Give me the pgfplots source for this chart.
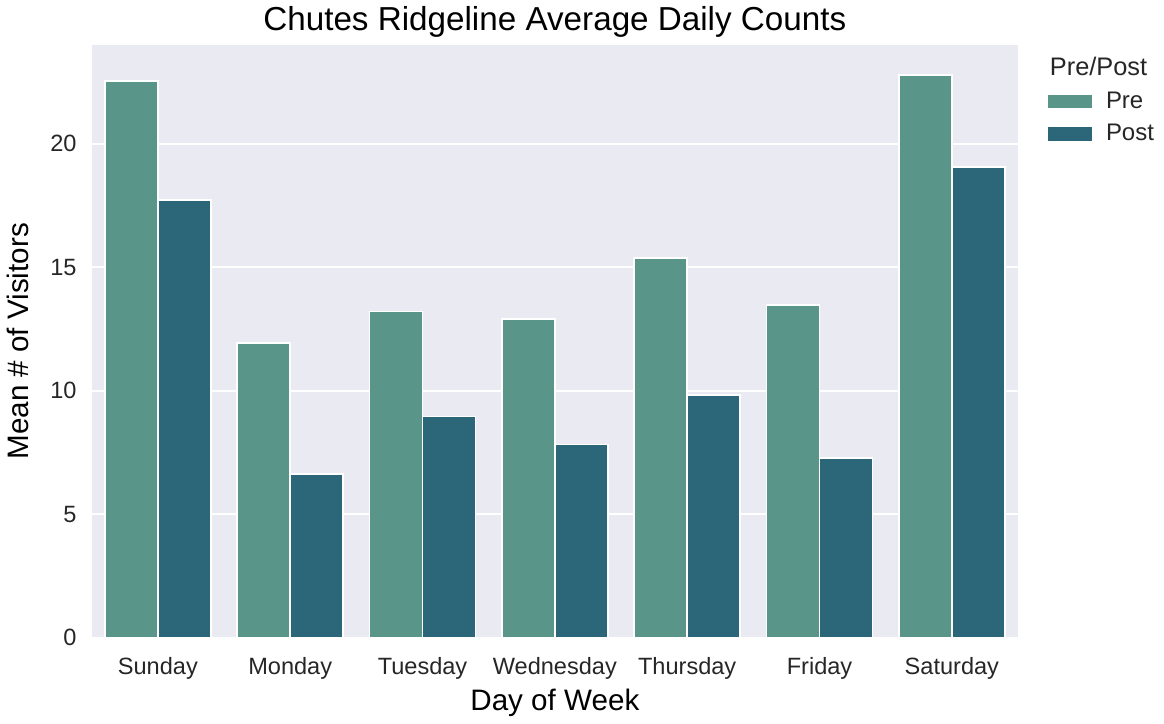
\documentclass[border=0pt]{standalone}
\usepackage{pgfplots}
\pgfplotsset{compat=1.18}
\usepackage{fontspec}
\setmainfont{Liberation Sans}
\definecolor{bgc}{HTML}{EAEAF2}
\definecolor{pre}{HTML}{5A9589}
\definecolor{post}{HTML}{2B6679}
\definecolor{txt}{HTML}{262626}

\pgfplotsset{ybar legend/.style={legend image code/.code={%
  \fill[##1, draw=none] (0pt,-3.3pt) rectangle (22pt,3.3pt);
  \path[draw=none, fill=none] (0pt,0pt) -- (27pt,0pt);}}}

\begin{document}
\begin{tikzpicture}
\begin{axis}[
scale only axis,
width=460pt, height=294.5pt,
clip=false,
axis background/.style={fill=bgc},
axis line style={draw=none},
ymajorgrids, grid style={white, line width=0.9pt},
tick style={draw=none},
xmin=-0.5, xmax=6.5,
ymin=0, ymax=24,
ytick={0,5,10,15,20},
xtick={0,1,2,3,4,5,6},
xticklabels={Sunday,Monday,Tuesday,Wednesday,Thursday,Friday,Saturday},
tick label style={font=\fontsize{11.7}{13}\selectfont, text=txt},
xticklabel style={yshift=-2pt},
yticklabel style={xshift=-4pt},
/pgf/number format/assume math mode=true,
xlabel={Day of Week},
ylabel={Mean \# of Visitors},
label style={font=\fontsize{14.7}{16}\selectfont, text=black},
ylabel style={yshift=4pt},
xlabel style={yshift=2pt},
title={Chutes Ridgeline Average Daily Counts},
title style={font=\fontsize{16.5}{18}\selectfont, yshift=-6pt},
ybar, bar width=0.4,
legend style={draw=none, fill=none, at={(1.025,0.935)}, anchor=north west,
  font=\fontsize{11.9}{13}\selectfont, row sep=2.5pt, text=txt},
legend cell align=left,
]
\addplot[fill=pre, draw=white, line width=0.8pt, bar shift=-0.2] coordinates {
(0,22.53) (1,11.93) (2,13.20) (3,12.91) (4,15.36) (5,13.48) (6,22.77)};
\addplot[fill=post, draw=white, line width=0.8pt, bar shift=0.2] coordinates {
(0,17.72) (1,6.64) (2,8.96) (3,7.82) (4,9.82) (5,7.29) (6,19.06)};
\legend{Pre,Post}
\node[anchor=center, font=\fontsize{12.6}{14}\selectfont, text=txt] at ([xshift=40pt,yshift=-10.5pt]rel axis cs:1,1) {Pre/Post};
\end{axis}
\end{tikzpicture}
\end{document}
